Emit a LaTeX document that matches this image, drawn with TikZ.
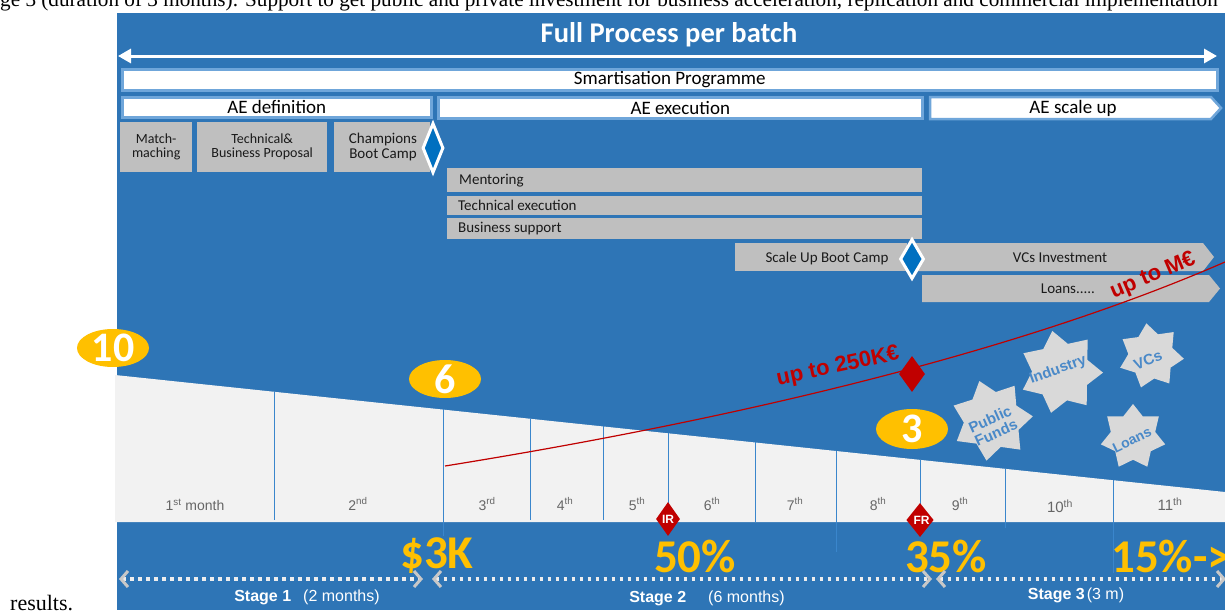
\documentclass[tikz,border=0pt]{standalone}
\usepackage{fontspec}
\setmainfont{Liberation Serif}
\newfontfamily\calib{Carlito}
\newfontfamily\arialf{Liberation Sans}
\usetikzlibrary{shapes.geometric,arrows.meta}
\newcommand\fsz[1]{\fontsize{#1}{#1}\selectfont}
\definecolor{bgblue}{HTML}{2E75B6}
\definecolor{ltblue}{HTML}{6FA6DA}
\definecolor{boxgrey}{HTML}{BFBFBF}
\definecolor{band}{HTML}{F2F2F2}
\definecolor{dblue}{HTML}{0070C0}
\definecolor{dred}{HTML}{C00000}
\definecolor{gold}{HTML}{FFC000}
\definecolor{starfill}{HTML}{D9D9D9}
\definecolor{startext}{HTML}{4A89C8}
\definecolor{monthtxt}{HTML}{666666}
\definecolor{txtdark}{HTML}{1A1A1A}
\definecolor{vblue}{HTML}{3A86CC}
\definecolor{chev}{HTML}{C8C8C8}
\definecolor{dotw}{HTML}{EDEDED}
\begin{document}
\begin{tikzpicture}[x=1pt,y=-1pt,
  whitebar/.style={draw=ltblue, line width=2.5pt, fill=white, inner sep=0pt, anchor=north west},
  bartext/.style={font=\calib\fsz{19}, text=black, inner sep=0pt},
  gbox/.style={fill=boxgrey, inner sep=0pt, anchor=north west},
  gtext/.style={font=\calib\fsz{14}, text=txtdark, align=center, inner sep=0pt},
  rowtext/.style={font=\calib\fsz{15}, text=txtdark, inner sep=0pt, anchor=west},
  bdiam/.style={diamond, fill=dblue, draw=white, line width=3pt, inner sep=0pt},
  rdiam/.style={diamond, fill=dred, inner sep=0pt, text=white, font=\arialf\bfseries\fsz{12}},
  goldell/.style={ellipse, fill=gold, inner sep=0pt, minimum width=72pt, minimum height=38pt},
  goldnum/.style={font=\calib\bfseries\fsz{42}, text=white, inner sep=0pt},
  bignum/.style={font=\calib\bfseries\fsz{47}, text=gold, inner sep=0pt},
  starsh/.style={star, star points=7, star point ratio=1.45, fill=starfill, inner sep=0pt},
  startxt/.style={font=\arialf\bfseries\fsz{15}, text=startext, align=center, inner sep=0pt},
  month/.style={font=\arialf\fsz{14}, text=monthtxt, inner sep=0pt},
  stagetxt/.style={font=\arialf\fsz{16}, text=white, inner sep=0pt},
  redtxt/.style={font=\arialf\bfseries\fsz{22}, text=dred, inner sep=0pt},
  vline/.style={draw=vblue, line width=1pt},
  dotarrow/.style={draw=dotw, line width=3.5pt, dash pattern=on 3.5pt off 4.5pt,
    arrows={Straight Barb[length=7pt,width=16pt,color=chev,line width=3pt]-Straight Barb[length=7pt,width=16pt,color=chev,line width=3pt]}}
]
\useasboundingbox (0,0) rectangle (1225,613);
\clip (0,0) rectangle (1225,613);
\fill[white] (0,0) rectangle (1225,613);
% surrounding caption fragments
\node[anchor=base west, inner sep=0pt, font=\fsz{21.2}] (captop) at (0,6.5) {ge 3 (duration of 3 months). Support to get public and private investment for business acceleration, replication and commercial implementation};
\node[anchor=base west, inner sep=0pt, font=\fsz{22}] (capbot) at (10,610) {results.};
% background
\fill[bgblue] (117,13) rectangle (1225,610);
% title and arrow
\node[font=\calib\bfseries\fsz{28.5}, text=white, inner sep=0pt] (title) at (669,35) {Full Process per batch};
\coordinate (tl) at (118,56);
\coordinate (tr) at (1217,56);
\draw[white, line width=3pt, {Triangle[length=13pt,width=14pt]}-{Triangle[length=13pt,width=14pt]}] (tl) -- (tr);
% programme bars
\node[whitebar, minimum width=1095pt, minimum height=21pt] (smart) at (121,68) {};
\node[bartext] (smarttxt) at (smart.center) {Smartisation Programme};
\node[whitebar, minimum width=309pt, minimum height=20pt] (aedef) at (121,96) {};
\node[bartext] (aedeftxt) at (aedef.center) {AE definition};
\node[whitebar, minimum width=484pt, minimum height=21pt] (aeexe) at (437,96) {};
\node[bartext] (aeexetxt) at (aeexe.center) {AE execution};
\draw[draw=ltblue, line width=2.5pt, fill=white] (930,97) -- (1211,97) -- (1221,108) -- (1211,119) -- (930,119) -- cycle;
\node[bartext] (aescale) at (1073,108) {AE scale up};
% AE definition boxes
\node[gbox, minimum width=72pt, minimum height=50pt] (match) at (120,122) {};
\node[gtext] (matchtxt) at (match.center) {Match-\\maching};
\node[gbox, minimum width=130pt, minimum height=50pt] (techprop) at (197,122) {};
\node[gtext] (techproptxt) at (techprop.center) {Technical\&\\Business Proposal};
\node[gbox, minimum width=96pt, minimum height=50pt] (champ) at (334,122) {};
\node[gtext, font=\calib\fsz{15}] (champtxt) at (383,147) {Champions\\Boot Camp};
\node[bdiam, minimum width=21pt, minimum height=50pt] (d1) at (433,148) {};
% AE execution rows
\node[gbox, minimum width=475pt, minimum height=24pt] (ment) at (447,168) {};
\node[rowtext] (menttxt) at ([xshift=12pt]ment.west) {Mentoring};
\node[gbox, minimum width=475pt, minimum height=19pt] (tech) at (447,196) {};
\node[rowtext] (techtxt) at ([xshift=11pt]tech.west) {Technical execution};
\node[gbox, minimum width=475pt, minimum height=21pt] (bus) at (447,218) {};
\node[rowtext] (bustxt) at ([xshift=11pt]bus.west) {Business support};
% scale up
\node[gbox, minimum width=172pt, minimum height=28pt] (sub) at (735,243) {};
\node[gtext, font=\calib\fsz{15}] (subtxt) at (827,258) {Scale Up Boot Camp};
\fill[boxgrey] (912,243) -- (1203,243) -- (1214,257) -- (1203,271) -- (912,271) -- cycle;
\node[gtext, font=\calib\fsz{15}] (vcs) at (1060,258) {VCs Investment};
\fill[boxgrey] (922,275) -- (1209,275) -- (1220,288.5) -- (1209,302) -- (922,302) -- cycle;
\node[gtext, font=\calib\fsz{15}] (loans) at (1068,289) {Loans.....};
\node[bdiam, minimum width=24pt, minimum height=40pt] (d2) at (912,259) {};
% timeline band
\fill[band] (115,375) -- (1225,492) -- (1225,522) -- (115,522) -- cycle;
\foreach \x/\yb in {274/520, 443/536, 530/520, 603/520, 668/512, 755/522, 836/552, 920/510, 1005/528, 1113/573}
  \draw[vline] (\x,{375+0.1056*(\x-117)}) -- (\x,\yb);
% red curve
\coordinate (cs) at (445,466);
\coordinate (ce) at (1225,262);
\draw[dred, line width=1.2pt] (cs) .. controls (700,425) and (1000,360) .. (ce);
\node[diamond, fill=dred, inner sep=0pt, minimum width=26pt, minimum height=36pt] (rd) at (912,374) {};
\node[redtxt, rotate=12] (k250) at (838,367) {up to 250K€};
\node[redtxt, rotate=23] (meur) at (1153,276) {up to M€};
% months
\node[month] (m1) at (195,505) {1\textsuperscript{st} month};
\node[month] (m2) at (358,504) {2\textsuperscript{nd}};
\node[month] (m3) at (487,504) {3\textsuperscript{rd}};
\node[month] (m4) at (565,504) {4\textsuperscript{th}};
\node[month] (m5) at (637,504) {5\textsuperscript{th}};
\node[month] (m6) at (712,504) {6\textsuperscript{th}};
\node[month] (m7) at (795,504) {7\textsuperscript{th}};
\node[month] (m8) at (878,504) {8\textsuperscript{th}};
\node[month] (m9) at (960,504) {9\textsuperscript{th}};
\node[month, font=\arialf\fsz{15}] (m10) at (1060,506) {10\textsuperscript{th}};
\node[month, font=\arialf\fsz{15}] (m11) at (1170,504) {11\textsuperscript{th}};
% gold ellipses
\node[goldell] (e10) at (113,348) {};
\node[goldnum] (n10) at (e10.center) {10};
\node[goldell] (e6) at (445,379) {};
\node[goldnum] (n6) at (e6.center) {6};
\node[goldell, minimum height=40pt] (e3) at (912,429) {};
\node[goldnum] (n3) at (e3.center) {3};
% stars
\node[starsh, minimum size=82pt, rotate=18] (spf) at (992,420) {};
\node[startxt, rotate=24] (spftxt) at (993,426) {Public\\Funds};
\node[starsh, minimum size=84pt, rotate=12] (sind) at (1061,372) {};
\node[startxt, rotate=20] (sindtxt) at (1058,370) {Industry};
\node[starsh, minimum size=66pt, rotate=8] (svc) at (1151,356) {};
\node[startxt, rotate=22] (svctxt) at (1148,360) {VCs};
\node[starsh, minimum size=66pt, rotate=0] (sloan) at (1133,437) {};
\node[startxt, rotate=26, font=\arialf\bfseries\fsz{14}] (sloantxt) at (1132,440) {Loans};
% IR / FR
\node[rdiam, minimum width=24pt, minimum height=34pt] (ir) at (668,519) {IR};
\node[rdiam, minimum width=24pt, minimum height=34pt] (fr) at (920,520) {\hspace*{3pt}\raisebox{-3pt}{FR}};
% big numbers
\node[bignum] (n3k) at (437,556) {\$3K};
\node[bignum] (n50) at (695,556) {50\%};
\node[bignum] (n35) at (946,556) {35\%};
\node[bignum, anchor=west] (n15) at (1111,556) {15\%->};
% stage arrows
\coordinate (s1a) at (119,579);
\coordinate (s1b) at (423,579);
\coordinate (s2a) at (432,579);
\coordinate (s2b) at (932,579);
\coordinate (s3a) at (936,579);
\coordinate (s3b) at (1226,579);
\draw[dotarrow] (s1a) -- (s1b);
\draw[dotarrow] (s2a) -- (s2b);
\draw[dotarrow] (s3a) -- (s3b);
\node[stagetxt] (st1) at (307,597) {\textbf{Stage 1}\hspace{12pt}(2 months)};
\node[stagetxt] (st2) at (707,598) {\textbf{Stage 2}\hspace{22pt}(6 months)};
\node[stagetxt] (st3) at (1076,595) {\textbf{Stage 3}\hspace{2pt}(3 m)};
\end{tikzpicture}
\end{document}
